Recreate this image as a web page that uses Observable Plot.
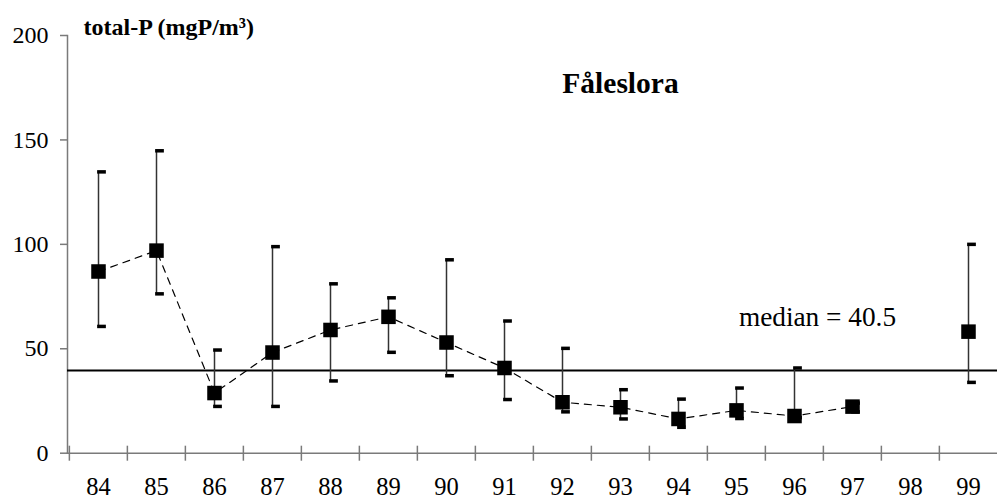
<!DOCTYPE html>
<html>
<head>
<meta charset="utf-8">
<script src="https://cdn.jsdelivr.net/npm/d3@7"></script>
<script src="https://cdn.jsdelivr.net/npm/@observablehq/plot@0.6"></script>
<style>
  html, body { margin: 0; padding: 0; background: white; }
</style>
</head>
<body>
<div id="chart"></div>
<script>
// Category axis (years)
const years = ["84","85","86","87","88","89","90","91","92","93","94","95","96","97","98","99"];
// Observed years with values
const obsYears = ["84","85","86","87","88","89","90","91","92","93","94","95","96","97","99"];
const means    = [87, 97, 28.8, 48.2, 59, 65.3, 53, 40.8, 24.4, 22, 16.4, 20.5, 17.8, 22.3, 58.2];
const highs    = [134.7, 144.8, 49.4, 98.9, 81.1, 74.4, 92.6, 63.3, 50.2, 30.4, 25.9, 31.2, 40.8, 24, 100];
const lows     = [60.7, 76.3, 22.4, 22.4, 34.6, 48.3, 37.1, 25.7, 19.8, 16.4, 12.4, 16.6, 17, 19.8, 33.9];
const yTicks   = [0, 50, 100, 150, 200];
const medianLineValue = 39.6;
const medianLabel = "median = 40.5";
const titleText = "Fåleslora";
const yLabel = "total-P (mgP/m³)";

const data = obsYears.map((y, i) => ({year: y, mean: means[i], hi: highs[i], lo: lows[i]}));
const lineData = data.filter(d => d.year !== "99");

const xRange = [67, 999];
const bw = (xRange[1] - xRange[0]) / years.length;
const axisGrey = "#7a7a7a";
const font = "Times New Roman, Liberation Serif, DejaVu Serif, serif";

const chart = Plot.plot({
  width: 997,
  height: 498,
  marginTop: 35,
  marginBottom: 45.3,
  marginLeft: 67,
  marginRight: 0,
  x: {type: "band", domain: years, range: xRange, padding: 0},
  y: {domain: [0, 200], range: [452.7, 35]},
  style: {fontFamily: font, background: "white", color: "black", overflow: "visible"},
  marks: [
    Plot.frame({anchor: "left", stroke: axisGrey, strokeWidth: 1.5}),
    Plot.frame({anchor: "bottom", stroke: axisGrey, strokeWidth: 1.5}),
    Plot.axisY({ticks: yTicks, tickSize: 7, tickPadding: 12, fontSize: 24, fontFamily: font, stroke: axisGrey, strokeWidth: 1.5, fill: "black", label: null}),
    Plot.axisX({tickSize: 0, tickPadding: 24, fontSize: 24.5, fontFamily: font, fill: "black", label: null}),
    Plot.axisX({ticks: years, tickSize: 15, dy: -7, dx: -bw / 2, tickFormat: () => "", stroke: axisGrey, strokeWidth: 1.5, label: null}),
    Plot.ruleY([medianLineValue], {stroke: "black", strokeWidth: 2}),
    Plot.ruleX(data, {x: "year", y1: "lo", y2: "hi", stroke: "#333", strokeWidth: 1.5}),
    Plot.tickY(data, {x: "year", y: "hi", stroke: "black", strokeWidth: 3.5, insetLeft: bw / 2 - 1, insetRight: bw / 2 - 8}),
    Plot.tickY(data, {x: "year", y: "lo", stroke: "black", strokeWidth: 3.5, insetLeft: bw / 2 - 1, insetRight: bw / 2 - 8}),
    Plot.line(lineData, {x: "year", y: "mean", stroke: "black", strokeWidth: 1.2, strokeDasharray: "7,6"}),
    Plot.dot(data, {x: "year", y: "mean", symbol: "square", r: 8.2, fill: "black", stroke: null}),
    Plot.text([medianLabel], {x: () => "96", y: () => medianLineValue, text: d => d, dx: 23, dy: -44.7, lineAnchor: "bottom", fontSize: 27.3, fontFamily: font, fill: "black"}),
    Plot.text([titleText], {frameAnchor: "top", text: d => d, dx: 88, dy: 57, lineAnchor: "bottom", fontSize: 29.5, fontWeight: "bold", fontFamily: font, fill: "black"}),
    Plot.text([yLabel], {frameAnchor: "top-left", text: d => d, dx: 16, dy: -1, lineAnchor: "bottom", textAnchor: "start", fontSize: 24, fontWeight: "bold", fontFamily: font, fill: "black"})
  ]
});
document.getElementById("chart").appendChild(chart);
</script>
</body>
</html>
